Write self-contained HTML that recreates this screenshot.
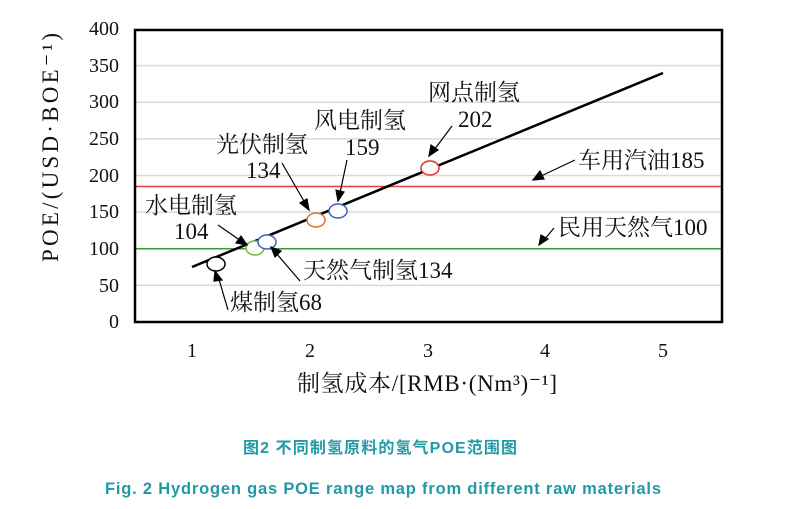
<!DOCTYPE html><html><head><meta charset="utf-8"><style>body{margin:0;background:#fff}svg{display:block}</style></head><body>
<svg width="800" height="509" xmlns="http://www.w3.org/2000/svg" font-family="'Liberation Serif','Noto Serif CJK SC',serif">
<rect width="800" height="509" fill="#fff"/>
<g stroke="#d9d9d9" stroke-width="1.5">
<line x1="135" x2="722" y1="285.4" y2="285.4"/><line x1="135" x2="722" y1="248.8" y2="248.8"/>
<line x1="135" x2="722" y1="212.1" y2="212.1"/><line x1="135" x2="722" y1="175.5" y2="175.5"/>
<line x1="135" x2="722" y1="138.9" y2="138.9"/><line x1="135" x2="722" y1="102.3" y2="102.3"/>
<line x1="135" x2="722" y1="65.6" y2="65.6"/></g>
<line x1="135" x2="722" y1="186.5" y2="186.5" stroke="#e04040" stroke-width="1.5"/>
<line x1="135" x2="722" y1="248.7" y2="248.7" stroke="#3a9a3a" stroke-width="1.5"/>
<rect x="135" y="30" width="587" height="292" fill="none" stroke="#000" stroke-width="2.5"/>
<line x1="192" y1="267" x2="663" y2="73" stroke="#000" stroke-width="2.5"/>
<g fill="#fff" stroke-width="1.5">
<ellipse cx="216" cy="264" rx="9" ry="7" stroke="#000"/>
<ellipse cx="255" cy="248" rx="9" ry="7" stroke="#7ab648"/>
<ellipse cx="267" cy="242" rx="9" ry="7" stroke="#4060c0"/>
<ellipse cx="316" cy="220" rx="9" ry="7" stroke="#e07030"/>
<ellipse cx="338" cy="211" rx="9" ry="7" stroke="#4060c0"/>
<ellipse cx="430" cy="168" rx="9" ry="7" stroke="#e03030"/>
</g>
<g stroke="#000" stroke-width="1.2" fill="#000">
<line x1="228" y1="310" x2="218" y2="276"/><polygon points="215,271 222,280 214,281"/>
<line x1="300" y1="281" x2="276" y2="253"/><polygon points="271,247 281,251 275,257"/>
<line x1="218" y1="225" x2="241" y2="241"/><polygon points="247,245 236,243 241,236"/>
<line x1="282" y1="163" x2="305" y2="203"/><polygon points="309,210 300,203 307,199"/>
<line x1="347" y1="160" x2="340" y2="193"/><polygon points="338,201 336,190 344,192"/>
<line x1="452" y1="126" x2="434" y2="150"/><polygon points="429,156 431,145 438,150"/>
<line x1="575" y1="160" x2="541" y2="176"/><polygon points="533,180 540,171 544,179"/>
<line x1="554" y1="228" x2="544" y2="240"/><polygon points="539,245 541,235 548,239"/>
</g>
<g font-size="20" fill="#111">
<text x="119" y="35" text-anchor="end">400</text><text x="119" y="72" text-anchor="end">350</text>
<text x="119" y="108" text-anchor="end">300</text><text x="119" y="145" text-anchor="end">250</text>
<text x="119" y="182" text-anchor="end">200</text><text x="119" y="218" text-anchor="end">150</text>
<text x="119" y="255" text-anchor="end">100</text><text x="119" y="292" text-anchor="end">50</text>
<text x="119" y="328" text-anchor="end">0</text>
<text x="192" y="357" text-anchor="middle">1</text><text x="310" y="357" text-anchor="middle">2</text>
<text x="428" y="357" text-anchor="middle">3</text><text x="545" y="357" text-anchor="middle">4</text>
<text x="663" y="357" text-anchor="middle">5</text>
</g>
<g font-size="23" fill="#111">
<text x="297" y="391" textLength="260">制氢成本/[RMB·(Nm³)⁻¹]</text>
<text transform="translate(58,262) rotate(-90)" textLength="229">POE/(USD·BOE⁻¹)</text>
<text x="230" y="310">煤制氢68</text>
<text x="303" y="278">天然气制氢134</text>
<text x="145" y="213">水电制氢</text><text x="174" y="239">104</text>
<text x="216" y="152">光伏制氢</text><text x="246" y="178">134</text>
<text x="314" y="128">风电制氢</text><text x="345" y="155">159</text>
<text x="428" y="100">网点制氢</text><text x="458" y="127">202</text>
<text x="578" y="168">车用汽油185</text>
<text x="558" y="235">民用天然气100</text>
</g>
<g font-family="'Liberation Sans','Noto Sans CJK SC',sans-serif" font-weight="bold" fill="#1f9aa6">
<text x="243" y="453" font-size="16" textLength="274">图2 不同制氢原料的氢气POE范围图</text>
<text x="105" y="494" font-size="16.5" textLength="556">Fig. 2 Hydrogen gas POE range map from different raw materials</text>
</g>
</svg></body></html>
